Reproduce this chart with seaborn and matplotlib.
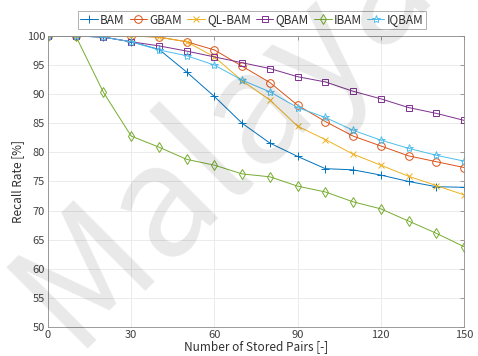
import numpy as np
import pandas as pd
import matplotlib
matplotlib.use("Agg")
import matplotlib.pyplot as plt
import seaborn as sns

x = [0, 10, 20, 30, 40, 50, 60, 70, 80, 90, 100, 110, 120, 130, 140, 150]
bam   = [100, 100, 99.8, 99.0, 97.7, 93.8, 89.6, 85.0, 81.6, 79.3, 77.2, 77.0, 76.1, 75.0, 74.1, 74.0]
gbam  = [100, 100, 100, 100, 99.8, 99.0, 97.6, 94.8, 92.0, 88.1, 85.3, 82.8, 81.1, 79.4, 78.4, 77.4]
qlbam = [100, 100, 100, 100, 99.8, 99.0, 96.4, 92.3, 89.0, 84.5, 82.2, 79.7, 77.8, 75.9, 74.3, 72.7]
qbam  = [100, 100, 99.8, 99.0, 98.3, 97.4, 96.4, 95.4, 94.4, 93.0, 92.1, 90.5, 89.2, 87.7, 86.7, 85.5]
ibam  = [100, 100, 90.3, 82.8, 80.9, 78.8, 77.8, 76.3, 75.8, 74.2, 73.2, 71.5, 70.3, 68.2, 66.1, 63.8]
iqbam = [100, 100, 99.8, 99.0, 97.6, 96.6, 95.0, 92.4, 90.4, 87.7, 86.0, 83.8, 82.1, 80.7, 79.5, 78.5]

names = ["BAM", "GBAM", "QL-BAM", "QBAM", "IBAM", "IQBAM"]
series = [bam, gbam, qlbam, qbam, ibam, iqbam]
colors = ["#0072BD", "#D95319", "#EDB120", "#7E2F8E", "#77AC30", "#4DBEEE"]
markers = ["+", "o", "x", "s", "d", "*"]
msizes = [6, 5.5, 5, 4.5, 5.5, 6]

sns.set_style("white")
plt.rcParams['font.family'] = ['Noto Sans CJK JP', 'DejaVu Sans']

fig = plt.figure(figsize=(4.78, 3.56), dpi=100)
ax = fig.add_axes([0.1004, 0.0815, 0.8703, 0.8175])

for name, ys, c, m, ms in zip(names, series, colors, markers, msizes):
    df = pd.DataFrame({"x": x, "y": ys})
    sns.lineplot(data=df, x="x", y="y", ax=ax, color=c, marker=m, markersize=ms,
                 markerfacecolor="none", markeredgecolor=c, markeredgewidth=0.7,
                 linewidth=0.7, label=name)

ax.set_xlim(0, 150)
ax.set_ylim(50, 100)
ax.set_xticks(np.arange(0, 151, 30))
ax.set_yticks(np.arange(50, 101, 5))
ax.grid(True, color="#ebebeb", linewidth=0.7)
ax.set_axisbelow(True)
for s in ax.spines.values():
    s.set_visible(True)
    s.set_color("#8c8c8c")
    s.set_linewidth(0.6)
ax.tick_params(direction="in", length=3, width=0.6, labelsize=8, colors="#8c8c8c",
               labelcolor="#404040", top=True, right=True, pad=2)
ax.set_xlabel("Number of Stored Pairs [-]", fontsize=8.5, labelpad=0, color="#303030")
ax.set_ylabel("Recall Rate [%]", fontsize=8.5, labelpad=2, color="#303030")

leg = ax.legend(loc="lower center", bbox_to_anchor=(0.49, 1.0), ncol=6, fontsize=8.5,
                frameon=True, fancybox=False, edgecolor="#8c8c8c", handlelength=1.5,
                handletextpad=0.2, columnspacing=0.4, borderpad=0.2, borderaxespad=0.6)
leg.get_frame().set_linewidth(0.6)
for t in leg.get_texts():
    t.set_color("#303030")

fig.text(0.15, 0.02, "Malaya", fontsize=112, color="black", alpha=0.09, rotation=45,
         rotation_mode="anchor", ha="left", va="baseline",
         family="Noto Sans CJK JP", zorder=10)

fig.savefig("out.png", dpi=100)
